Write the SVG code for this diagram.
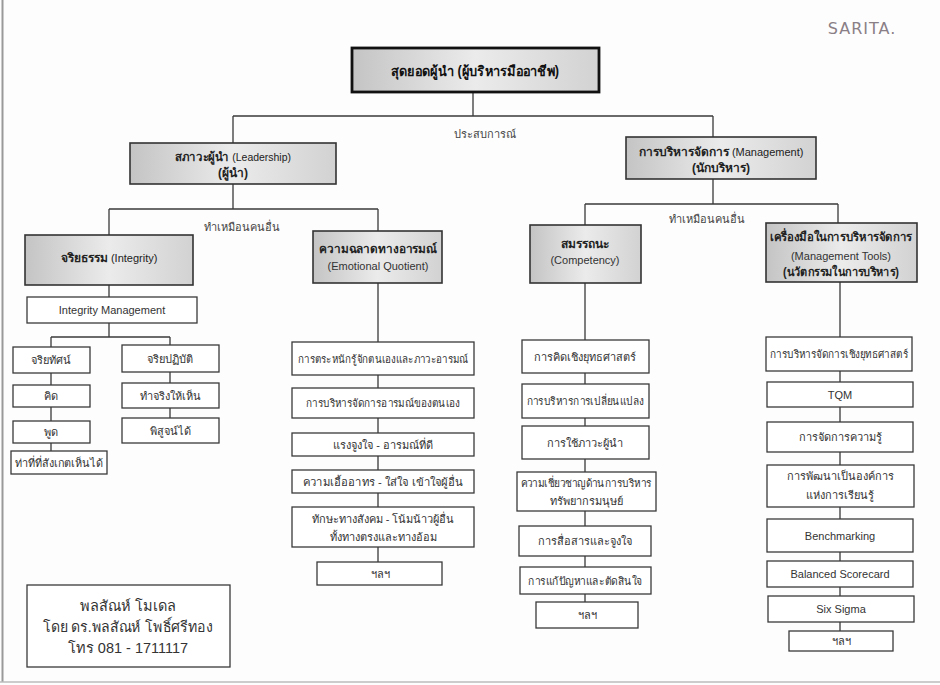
<svg xmlns="http://www.w3.org/2000/svg" width="940" height="685" viewBox="0 0 940 685">
<defs>
<linearGradient id="shade" x1="0" y1="0" x2="1" y2="0">
<stop offset="0" stop-color="#c4c4c4"/>
<stop offset="0.5" stop-color="#ebebeb"/>
<stop offset="1" stop-color="#d2d2d2"/>
</linearGradient>
<style>
.box{fill:#fff;stroke:#3a3a3a;stroke-width:1.3}
.sbox{fill:url(#shade);stroke:#333;stroke-width:1.6}
.top{fill:url(#shade);stroke:#111;stroke-width:2.8}
.ln{stroke:#3a3a3a;stroke-width:1.3;fill:none}
text{font-family:"Liberation Sans","Noto Sans","DejaVu Sans",sans-serif;fill:#333;text-anchor:middle}
.t{font-size:11px}
.b{font-size:12px;font-weight:bold;fill:#222}
.n{font-weight:normal;font-size:11px}
.lbl{font-size:11px;fill:#444}
.sig{font-size:14.5px;fill:#333}
</style>
</defs>
<rect width="940" height="685" fill="#fdfdfd"/>
<line x1="2.5" y1="0" x2="2.5" y2="682" stroke="#999" stroke-width="2"/>
<line x1="0" y1="682" x2="940" y2="682" stroke="#bbb" stroke-width="1.5"/>
<text x="862" y="34" style="font-size:16px;fill:#8a7f86;font-family:'DejaVu Sans',sans-serif;letter-spacing:1px">SARITA.</text>

<g id="connectors">
<path class="ln" d="M473,92V116M233,116H713M233,116V143M713,116V137"/>
<path class="ln" d="M233,184V209M109,209H378M109,209V235M378,209V231"/>
<path class="ln" d="M109,285V297M109,323V337M51,337H170M51,337V347M170,337V345"/>
<path class="ln" d="M51,373V385M51,407V421M51,443V451M170,372V383M170,408V418"/>
<path class="ln" d="M378,283V342M378,375V388M378,418V433M378,456V470M378,493V507M378,547V562"/>
<path class="ln" d="M713,179V204M585,204H838M585,204V225M838,204V223"/>
<path class="ln" d="M585,283V340M585,373V384M585,418V426M585,459V472M585,511V526M585,556V567M585,594V602"/>
<path class="ln" d="M840,282V337M840,371V382M840,407V422M840,452V465M840,507V519M840,552V561M840,587V596M840,622V631"/>
</g>

<g id="n-top"><rect class="top" x="352" y="48" width="247" height="44"/><text x="475" y="76" textLength="168" lengthAdjust="spacingAndGlyphs" style="font-size:14px;font-weight:bold;fill:#111">สุดยอดผู้นำ (ผู้บริหารมืออาชีพ)</text></g>
<text id="lbl-exp" class="lbl" x="485" y="138">ประสบการณ์</text>

<g id="n-leadership"><rect class="sbox" x="130" y="143" width="206" height="41"/><text class="b" x="233" y="161" textLength="116" lengthAdjust="spacingAndGlyphs">สภาวะผู้นำ <tspan class="n">(Leadership)</tspan></text><text class="b" x="233" y="177">(ผู้นำ)</text></g>
<text id="lbl-copy1" class="lbl" x="242" y="231">ทำเหมือนคนอื่น</text>

<g id="n-integrity"><rect class="sbox" x="25" y="235" width="168" height="50"/><text class="b" x="109" y="262">จริยธรรม <tspan class="n">(Integrity)</tspan></text></g>
<g id="n-intmgmt"><rect class="box" x="27" y="297" width="170" height="26"/><text class="t" x="112" y="314">Integrity Management</text></g>
<g id="n-view"><rect class="box" x="13" y="347" width="77" height="26"/><text class="t" x="51" y="364">จริยทัศน์</text></g>
<g id="n-think"><rect class="box" x="13" y="385" width="77" height="22"/><text class="t" x="51" y="400">คิด</text></g>
<g id="n-speak"><rect class="box" x="13" y="421" width="77" height="22"/><text class="t" x="51" y="436">พูด</text></g>
<g id="n-pose"><rect class="box" x="11" y="451" width="96" height="23"/><text class="t" x="59" y="467" textLength="88" lengthAdjust="spacingAndGlyphs">ท่าที่ที่สังเกตเห็นได้</text></g>
<g id="n-practice"><rect class="box" x="122" y="345" width="97" height="27"/><text class="t" x="170" y="362.5">จริยปฏิบัติ</text></g>
<g id="n-do"><rect class="box" x="122" y="383" width="97" height="25"/><text class="t" x="170" y="399.5">ทำจริงให้เห็น</text></g>
<g id="n-prove"><rect class="box" x="122" y="418" width="97" height="25"/><text class="t" x="170" y="434.5">พิสูจน์ได้</text></g>

<g id="n-eq"><rect class="sbox" x="313" y="231" width="129" height="52"/><text class="b" x="378" y="253" textLength="118" lengthAdjust="spacingAndGlyphs">ความฉลาดทางอารมณ์</text><text class="t" x="378" y="270">(Emotional Quotient)</text></g>
<g id="n-eq1"><rect class="box" x="292" y="342" width="182" height="33"/><text class="t" x="383" y="362.5" textLength="170" lengthAdjust="spacingAndGlyphs">การตระหนักรู้จักตนเองและภาวะอารมณ์</text></g>
<g id="n-eq2"><rect class="box" x="292" y="388" width="182" height="30"/><text class="t" x="383" y="407" textLength="154" lengthAdjust="spacingAndGlyphs">การบริหารจัดการอารมณ์ของตนเอง</text></g>
<g id="n-eq3"><rect class="box" x="292" y="433" width="182" height="23"/><text class="t" x="383" y="448.5">แรงจูงใจ - อารมณ์ที่ดี</text></g>
<g id="n-eq4"><rect class="box" x="292" y="470" width="182" height="23"/><text class="t" x="383" y="485.5" textLength="160" lengthAdjust="spacingAndGlyphs">ความเอื้ออาทร - ใส่ใจ เข้าใจผู้อื่น</text></g>
<g id="n-eq5"><rect class="box" x="292" y="507" width="182" height="40"/><text class="t" x="383" y="523">ทักษะทางสังคม - โน้มน้าวผู้อื่น</text><text class="t" x="383" y="541">ทั้งทางตรงและทางอ้อม</text></g>
<g id="n-eq6"><rect class="box" x="317" y="562" width="125" height="23"/><text class="t" x="380" y="577.5">ฯลฯ</text></g>

<g id="n-management"><rect class="sbox" x="626" y="137" width="190" height="42"/><text class="b" x="721" y="156">การบริหารจัดการ <tspan class="n">(Management)</tspan></text><text class="b" x="721" y="172">(นักบริหาร)</text></g>
<text id="lbl-copy2" class="lbl" x="707" y="223">ทำเหมือนคนอื่น</text>

<g id="n-competency"><rect class="sbox" x="530" y="225" width="111" height="58"/><text class="b" x="585" y="248">สมรรถนะ</text><text class="t" x="585" y="264">(Competency)</text></g>
<g id="n-c1"><rect class="box" x="522" y="340" width="127" height="33"/><text class="t" x="585" y="360.5" textLength="102" lengthAdjust="spacingAndGlyphs">การคิดเชิงยุทธศาสตร์</text></g>
<g id="n-c2"><rect class="box" x="522" y="384" width="127" height="34"/><text class="t" x="585" y="405" textLength="117" lengthAdjust="spacingAndGlyphs">การบริหารการเปลี่ยนแปลง</text></g>
<g id="n-c3"><rect class="box" x="522" y="426" width="127" height="33"/><text class="t" x="585" y="446.5">การใช้ภาวะผู้นำ</text></g>
<g id="n-c4"><rect class="box" x="517" y="472" width="139" height="39"/><text class="t" x="586" y="487" textLength="131" lengthAdjust="spacingAndGlyphs">ความเชี่ยวชาญด้านการบริหาร</text><text class="t" x="586" y="505">ทรัพยากรมนุษย์</text></g>
<g id="n-c5"><rect class="box" x="519" y="526" width="132" height="30"/><text class="t" x="585" y="545">การสื่อสารและจูงใจ</text></g>
<g id="n-c6"><rect class="box" x="520" y="567" width="131" height="27"/><text class="t" x="585" y="584.5" textLength="114" lengthAdjust="spacingAndGlyphs">การแก้ปัญหาและตัดสินใจ</text></g>
<g id="n-c7"><rect class="box" x="536" y="602" width="102" height="26"/><text class="t" x="587" y="619">ฯลฯ</text></g>

<g id="n-tools"><rect class="sbox" x="766" y="223" width="151" height="59"/><text class="b" x="841" y="241" textLength="142" lengthAdjust="spacingAndGlyphs">เครื่องมือในการบริหารจัดการ</text><text class="t" x="841" y="260">(Management Tools)</text><text class="b" x="841" y="276" textLength="116" lengthAdjust="spacingAndGlyphs">(นวัตกรรมในการบริหาร)</text></g>
<g id="n-t1"><rect class="box" x="766" y="337" width="146" height="34"/><text class="t" x="839" y="358" textLength="138" lengthAdjust="spacingAndGlyphs">การบริหารจัดการเชิงยุทธศาสตร์</text></g>
<g id="n-t2"><rect class="box" x="767" y="382" width="146" height="25"/><text class="t" x="840" y="398.5">TQM</text></g>
<g id="n-t3"><rect class="box" x="767" y="422" width="146" height="30"/><text class="t" x="840" y="441">การจัดการความรู้</text></g>
<g id="n-t4"><rect class="box" x="767" y="465" width="147" height="42"/><text class="t" x="840" y="480">การพัฒนาเป็นองค์การ</text><text class="t" x="840" y="499">แห่งการเรียนรู้</text></g>
<g id="n-t5"><rect class="box" x="767" y="519" width="146" height="33"/><text class="t" x="840" y="539.5">Benchmarking</text></g>
<g id="n-t6"><rect class="box" x="767" y="561" width="146" height="26"/><text class="t" x="840" y="578">Balanced Scorecard</text></g>
<g id="n-t7"><rect class="box" x="768" y="596" width="146" height="26"/><text class="t" x="841" y="613">Six Sigma</text></g>
<g id="n-t8"><rect class="box" x="789" y="631" width="104" height="20"/><text class="t" x="841" y="645">ฯลฯ</text></g>

<g id="n-sign"><rect class="box" x="27" y="585" width="203" height="82"/><text class="sig" x="128" y="611">พลสัณห์ โมเดล</text><text class="sig" x="128" y="632" textLength="170" lengthAdjust="spacingAndGlyphs">โดย ดร.พลสัณห์  โพธิ์ศรีทอง</text><text class="sig" x="128" y="653">โทร 081 - 1711117</text></g>
</svg>
